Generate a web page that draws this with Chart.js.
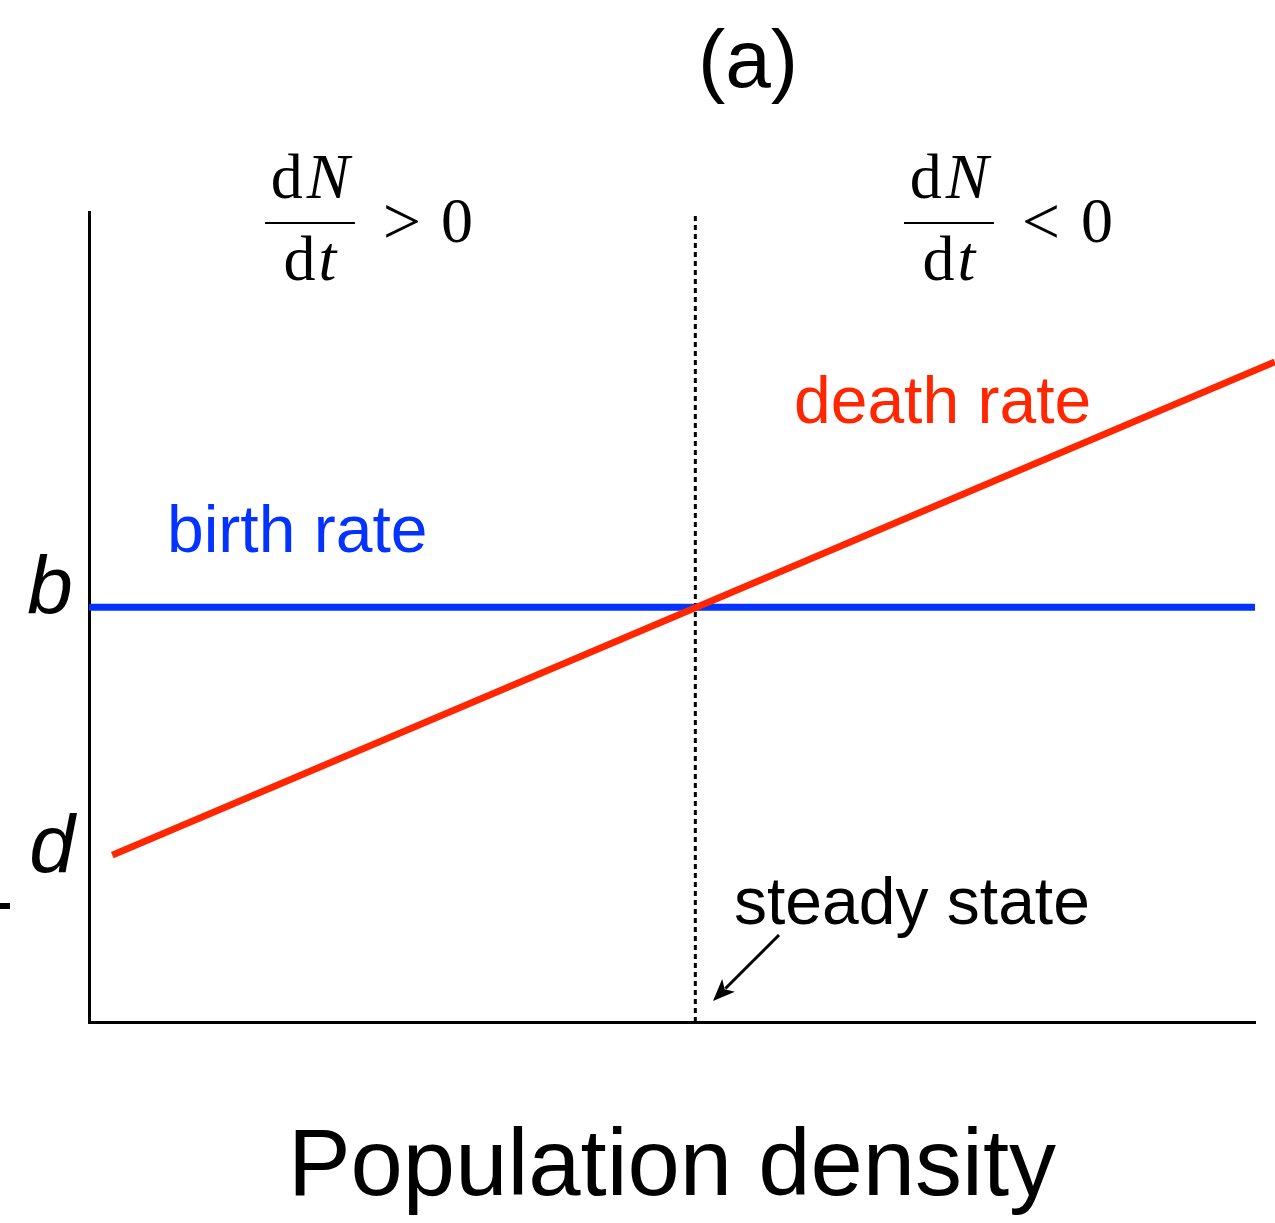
<!DOCTYPE html>
<html><head><meta charset="utf-8">
<script src="https://cdn.jsdelivr.net/npm/chart.js@4.4.1/dist/chart.umd.min.js"></script>
<style>html,body{margin:0;padding:0;background:#fff}#wrap{width:1275px;height:1223px}</style>
</head><body><div id="wrap"><canvas id="c" width="1275" height="1223"></canvas></div>
<script>
// ---- data ----
const xDomain = [0, 1];
const yDomain = [0, 1];
const birthX = [0, 1];
const birthY = [0.512, 0.512];
const deathX = [0.02, 1.017];
const deathY = [0.206, 0.815];
const steadyX = [0.52, 0.52];
const steadyY = [0, 1];
const yTickLabels = ['b', 'd'];
const yTickValues = [0.512, 0.206];
const xTitle = 'Population density';
const panelLabel = '(a)';
const seriesLabels = ['birth rate', 'death rate', 'steady state'];
const regionSigns = ['>', '<'];

const BLUE = '#0433FF', RED = '#FF2600';
const SANS = '"Liberation Sans", Arial, Helvetica, sans-serif';
const SERIF = '"Liberation Serif", "Times New Roman", serif';

function pts(xs, ys) { return xs.map((x, i) => ({x, y: ys[i]})); }

function drawFraction(ctx, cx, sign, signCx, zeroCx) {
  ctx.fillStyle = '#000';
  ctx.textBaseline = 'alphabetic';
  ctx.textAlign = 'left';
  const up = '64px ' + SERIF, it = 'italic 64px ' + SERIF;
  // numerator d N
  ctx.font = up; const wd = ctx.measureText('d').width;
  ctx.font = it; const wN = ctx.measureText('N').width;
  let sx = cx - (wd + wN + 4) / 2;
  ctx.font = up; ctx.fillText('d', sx, 198);
  ctx.font = it; ctx.fillText('N', sx + wd + 4, 198);
  // bar
  ctx.fillRect(cx - 45, 222, 90, 2);
  // denominator d t
  ctx.font = up; const wd2 = ctx.measureText('d').width;
  ctx.font = it; const wt = ctx.measureText('t').width;
  sx = cx - (wd2 + wt + 3) / 2;
  ctx.font = up; ctx.fillText('d', sx, 280);
  ctx.font = it; ctx.fillText('t', sx + wd2 + 3, 280);
  // relation and zero
  ctx.font = '68px ' + SERIF; ctx.textAlign = 'center';
  ctx.textBaseline = 'middle';
  ctx.fillText(sign, signCx, 226);
  ctx.font = up;
  ctx.textBaseline = 'alphabetic';
  ctx.fillText('0', zeroCx, 242);
}

const annot = {
  id: 'annot',
  afterDraw(chart) {
    const ctx = chart.ctx;
    const ys = chart.scales.y;
    ctx.save();
    // panel label
    ctx.fillStyle = '#000';
    ctx.font = '82px ' + SANS;
    ctx.textAlign = 'center'; ctx.textBaseline = 'alphabetic';
    ctx.fillText(panelLabel, 748, 87);
    // fractions
    drawFraction(ctx, 310, regionSigns[0], 402, 457);
    drawFraction(ctx, 949, regionSigns[1], 1041, 1097);
    // y tick labels b, d
    ctx.fillStyle = '#000';
    ctx.font = 'italic 82px ' + SANS;
    ctx.textAlign = 'center'; ctx.textBaseline = 'alphabetic';
    ctx.fillText(yTickLabels[0], 50, ys.getPixelForValue(yTickValues[0]) + 6);
    ctx.fillText(yTickLabels[1], 52, ys.getPixelForValue(yTickValues[1]) + 17);
    // series labels
    ctx.textAlign = 'left';
    ctx.font = '66px ' + SANS;
    ctx.fillStyle = BLUE; ctx.fillText(seriesLabels[0], 167, 552);
    ctx.fillStyle = RED; ctx.fillText(seriesLabels[1], 794, 423);
    ctx.fillStyle = '#000'; ctx.fillText(seriesLabels[2], 734, 924);
    // arrow
    const x1 = 779, y1 = 935, x2 = 713, y2 = 1001;
    const ang = Math.atan2(y2 - y1, x2 - x1);
    const hl = 22, hw = 9;
    ctx.strokeStyle = '#000'; ctx.lineWidth = 3;
    ctx.beginPath();
    ctx.moveTo(x1, y1);
    ctx.lineTo(x2 - Math.cos(ang) * hl * 0.8, y2 - Math.sin(ang) * hl * 0.8);
    ctx.stroke();
    ctx.beginPath();
    ctx.moveTo(x2, y2);
    ctx.lineTo(x2 - Math.cos(ang) * hl - Math.sin(ang) * hw, y2 - Math.sin(ang) * hl + Math.cos(ang) * hw);
    ctx.lineTo(x2 - Math.cos(ang) * hl * 0.75, y2 - Math.sin(ang) * hl * 0.75);
    ctx.lineTo(x2 - Math.cos(ang) * hl + Math.sin(ang) * hw, y2 - Math.sin(ang) * hl - Math.cos(ang) * hw);
    ctx.closePath();
    ctx.fillStyle = '#000'; ctx.fill();
    // small mark at left edge
    ctx.fillRect(0, 903, 10, 6);
    ctx.restore();
  }
};

new Chart(document.getElementById('c'), {
  type: 'line',
  data: {
    datasets: [
      { label: seriesLabels[1], data: pts(deathX, deathY), borderColor: RED, borderWidth: 7,
        pointRadius: 0, clip: false, order: 0, borderCapStyle: 'butt' },
      { label: seriesLabels[0], data: pts(birthX, birthY), borderColor: BLUE, borderWidth: 7,
        pointRadius: 0, order: 1 },
      { label: seriesLabels[2], data: pts(steadyX, steadyY), borderColor: '#000', borderWidth: 3,
        borderDash: [5, 4], pointRadius: 0, order: 2 }
    ]
  },
  options: {
    responsive: false,
    animation: false,
    devicePixelRatio: 1,
    parsing: false,
    layout: { padding: { left: 0, right: 20, top: 212, bottom: 0 } },
    plugins: { legend: { display: false }, tooltip: { enabled: false }, title: { display: false } },
    scales: {
      x: {
        type: 'linear', min: xDomain[0], max: xDomain[1],
        grid: { display: false }, ticks: { display: false },
        border: { display: true, color: '#000', width: 3 },
        title: { display: true, text: xTitle, color: '#000',
          font: { family: SANS, size: 94, lineHeight: 1.15 }, padding: { top: 0, bottom: 0 } },
        afterFit(s) { s.height = 201; }
      },
      y: {
        type: 'linear', min: yDomain[0], max: yDomain[1],
        grid: { display: false }, ticks: { display: false },
        border: { display: true, color: '#000', width: 3 },
        afterFit(s) { s.width = 89; }
      }
    }
  },
  plugins: [annot]
});
</script>
</body></html>
